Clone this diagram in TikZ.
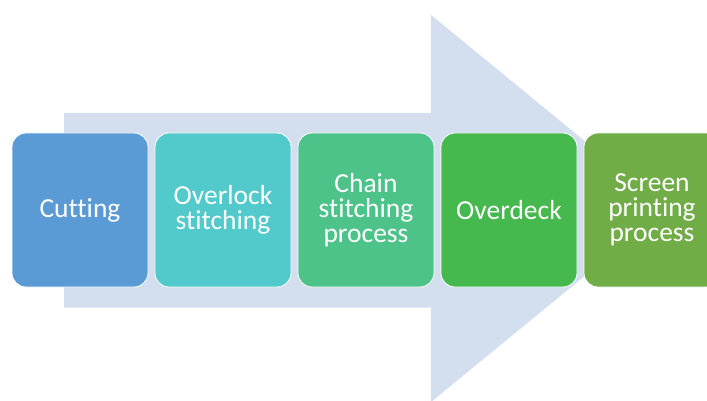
\documentclass[tikz,border=0pt]{standalone}
\usepackage{fontspec}
\setmainfont{Carlito}[Ligatures=CommonOff]
\usepackage{tikz}
\usetikzlibrary{positioning}
\definecolor{ArrowBlue}{RGB}{211,222,239}
\definecolor{CutBlue}{RGB}{91,155,213}
\definecolor{LockTeal}{RGB}{82,201,202}
\definecolor{ChainGreen}{RGB}{77,195,138}
\definecolor{DeckGreen}{RGB}{69,185,78}
\definecolor{ScreenGreen}{RGB}{112,173,71}

\begin{document}
\begin{tikzpicture}[
  x=1pt, y=-1pt,
  stage/.style={
    draw=white,
    rounded corners=14pt,
    minimum width=136pt,
    minimum height=154pt,
    align=center,
    text=white,
    line width=0.8pt,
    inner sep=2pt,
    outer sep=0pt,
    font=\fontsize{27.5}{25}\selectfont
  },
  bigarrow/.style={fill=ArrowBlue}
]
\useasboundingbox (0,0) rectangle (707,401);
\clip (0,0) rectangle (707,401);
\def\YMid{210}
% background arrow
\fill[bigarrow] (64,113) -- (431,113) -- (431,15) -- (667,208.5)
  -- (431,402) -- (431,307.5) -- (64,307.5) -- cycle;

\node[stage,fill=CutBlue] (cut) at (80,\YMid) {Cutting};
\node[stage,fill=LockTeal,right=7pt of cut] (overlock) {Overlock\\stitching};
\node[stage,fill=ChainGreen,right=7pt of overlock] (chain) {Chain\\stitching\\process};
\node[stage,fill=DeckGreen,right=7pt of chain] (overdeck) {Overdeck};
\node[stage,fill=ScreenGreen,right=7pt of overdeck] (screen) {Screen\\printing\\process};
\end{tikzpicture}
\end{document}
